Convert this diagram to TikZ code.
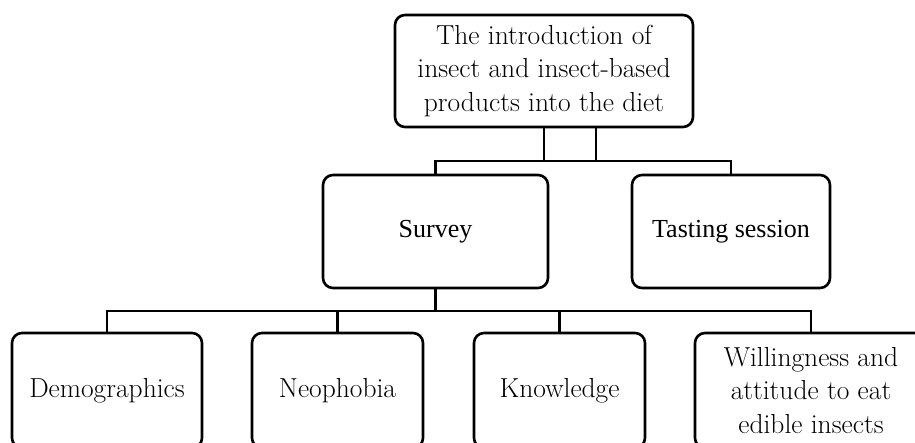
\documentclass[tikz,border=0pt]{standalone}
\usepackage{fontspec}
\usepackage{tikz}
\usetikzlibrary{calc}
\newfontfamily\timesfont{Liberation Serif}
\tikzset{
  caja/.style={draw, rounded corners=10pt, line width=2.6pt, align=center,
    inner sep=0pt, minimum height=113pt, font=\fontsize{27.5}{33.5}\selectfont},
  cajatimes/.style={caja, font=\timesfont\fontsize{26}{33}\selectfont},
  enlace/.style={line width=2.6pt}
}

\begin{document}
\begin{tikzpicture}[x=1pt, y=-1pt]
    \useasboundingbox (0,0) rectangle (915,443);
    \clip (0,0) rectangle (915,443);
    % caja superior
    \node[caja, minimum width=298pt, minimum height=112pt] (intro) at (544,71)
        {The introduction of\\insect and insect-based\\products into the diet};
    % segundo nivel
    \node[cajatimes, minimum width=225pt] (survey) at (435.5,231.5) {Survey};
    \node[cajatimes, minimum width=198pt] (tasting) at (731,231.5) {Tasting session};
    % tercer nivel (cortado por el borde)
    \node[caja, minimum width=190pt, minimum height=115pt] (demo) at (107,390.5) {Demographics};
    \node[caja, minimum width=171pt, minimum height=115pt] (neo) at (337.5,390.5) {Neophobia};
    \node[caja, minimum width=171pt, minimum height=115pt] (know) at (559.5,390.5) {Knowledge};
    \node[caja, minimum width=232pt, minimum height=115pt] (will) at (811,390.5)
        {Willingness and\\attitude to eat\\edible insects};
    % barras de union
    \coordinate (barra1) at (0,161);
    \coordinate (barra2) at (0,311);
    \draw[enlace] (intro.south) -- (intro.south |- barra1);
    \draw[enlace] ([xshift=52pt]intro.south) -- ([xshift=52pt]intro.south |- barra1);
    \draw[enlace] (survey.north) -- (survey.north |- barra1) -- (tasting.north |- barra1) -- (tasting.north);
    \draw[enlace] (survey.south) -- (survey.south |- barra2);
    \draw[enlace] (demo.north) -- (demo.north |- barra2) -- (will.north |- barra2) -- (will.north);
    \draw[enlace] (neo.north) -- (neo.north |- barra2);
    \draw[enlace] (know.north) -- (know.north |- barra2);
\end{tikzpicture}
\end{document}
